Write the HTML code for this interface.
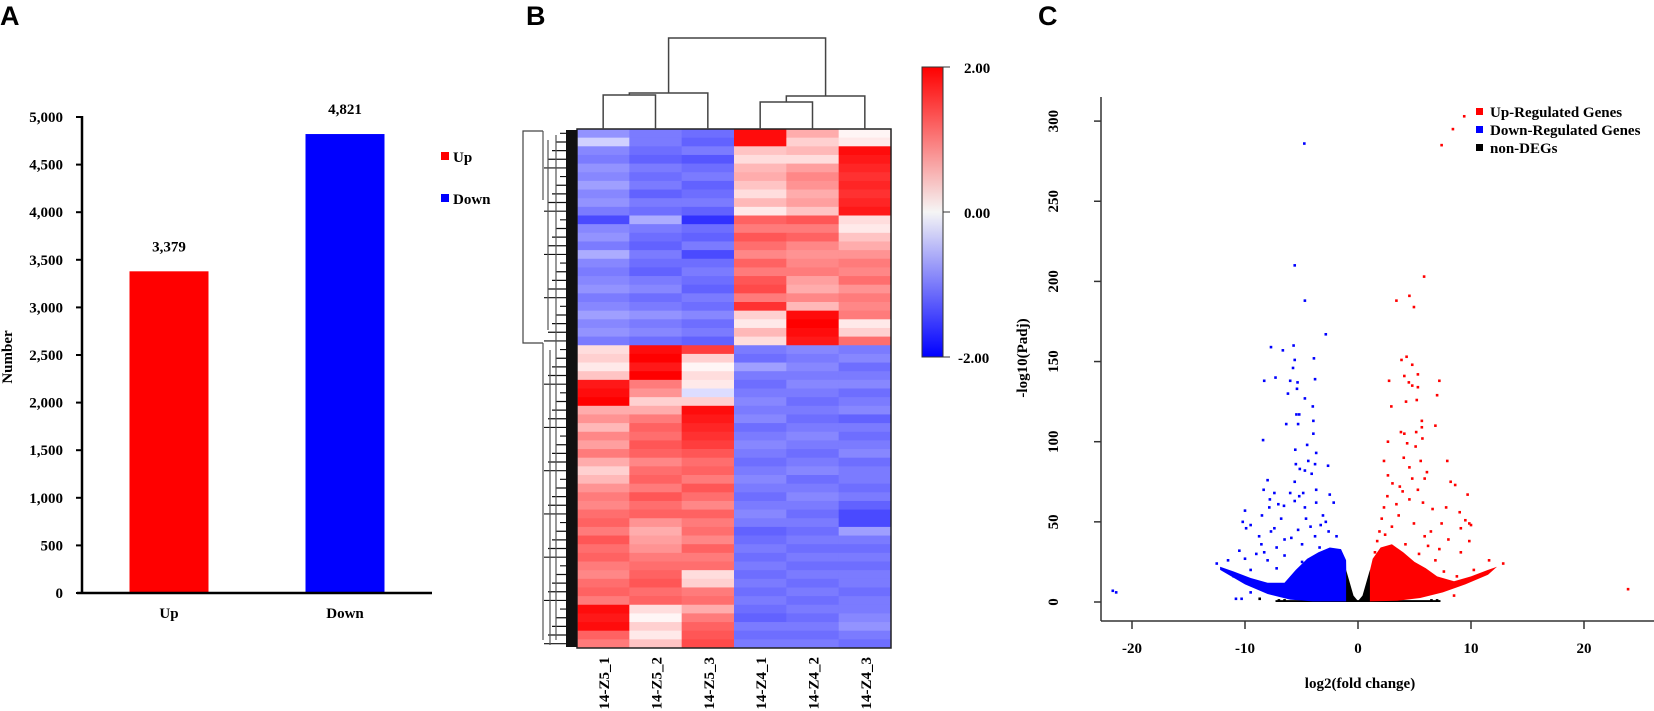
<!DOCTYPE html>
<html><head><meta charset="utf-8">
<style>
html,body{margin:0;padding:0;background:#fff;}
svg{display:block;font-family:"Liberation Serif",serif;}
.t{font-weight:bold;font-size:15px;fill:#000;}
</style></head>
<body>
<svg id="fig" width="1654" height="711" viewBox="0 0 1654 711" xmlns="http://www.w3.org/2000/svg">
<text x="0" y="25" font-family="Liberation Sans, sans-serif" font-weight="bold" font-size="27">A</text>
<text x="526" y="25" font-family="Liberation Sans, sans-serif" font-weight="bold" font-size="27">B</text>
<text x="1038" y="25" font-family="Liberation Sans, sans-serif" font-weight="bold" font-size="27">C</text>
<g id="pa"></g>
<g id="pb"></g>
<g id="pc"></g>
</svg>
<script>
// ---------- Panel A data ----------
const barCategories = ["Up", "Down"];
const barValues = [3379, 4821];
const barLabels = ["3,379", "4,821"];
const barColors = ["#ff0000", "#0000ff"];
const barTicks = [0, 500, 1000, 1500, 2000, 2500, 3000, 3500, 4000, 4500, 5000];
const barTickLabels = ["0", "500", "1,000", "1,500", "2,000", "2,500", "3,000", "3,500", "4,000", "4,500", "5,000"];

// ---------- Panel B data ----------
const heatColumns = ["14-Z5_1", "14-Z5_2", "14-Z5_3", "14-Z4_1", "14-Z4_2", "14-Z4_3"];
const heatValues = [
[-0.8,-1.0,-1.1,1.9,0.6,0.0],[-0.3,-1.0,-1.2,1.9,0.3,0.1],[-0.9,-1.1,-1.0,0.4,0.5,1.9],[-1.0,-1.2,-1.3,0.2,0.2,1.8],
[-0.8,-1.0,-1.1,0.5,0.7,1.7],[-0.9,-1.1,-1.0,0.6,0.9,1.6],[-0.7,-1.0,-1.2,0.4,0.8,1.7],[-0.9,-1.2,-1.1,0.2,0.6,1.6],
[-0.8,-1.0,-1.0,0.5,0.7,1.7],[-1.0,-1.1,-1.2,0.1,0.4,1.8],[-1.4,-0.6,-1.6,1.2,1.3,0.2],[-0.9,-1.0,-1.1,1.0,1.0,0.1],
[-0.8,-1.1,-1.2,1.3,1.2,0.4],[-1.0,-1.2,-1.0,1.1,0.9,0.6],[-0.6,-1.0,-1.4,0.9,0.8,0.8],[-0.9,-1.1,-1.1,1.2,0.9,1.0],
[-1.0,-1.2,-1.0,1.0,1.0,0.9],[-0.9,-1.0,-1.1,1.3,0.7,1.1],[-0.8,-0.9,-1.2,1.4,0.6,0.8],[-1.0,-1.1,-1.0,1.0,0.9,1.0],
[-0.9,-1.0,-1.1,1.6,0.5,0.9],[-0.7,-0.8,-0.9,0.3,1.9,1.0],[-0.9,-1.0,-1.1,0.1,2.0,0.1],[-0.8,-0.9,-1.0,0.5,1.9,0.3],
[-1.0,-1.1,-1.2,0.2,1.8,1.1],
[0.2,1.9,1.5,-1.0,-0.9,-1.0],[0.3,2.0,0.3,-1.1,-1.0,-0.9],[0.1,1.8,0.0,-0.7,-0.9,-1.1],[0.4,2.0,0.2,-1.0,-1.0,-1.0],
[1.8,1.0,0.1,-1.1,-0.9,-0.9],[1.9,0.8,-0.2,-1.0,-1.0,-1.1],[2.0,0.3,0.3,-0.9,-1.1,-1.0],[0.6,0.6,1.9,-1.0,-1.0,-0.9],
[0.8,1.0,1.8,-0.9,-1.1,-1.2],[0.5,1.2,1.7,-1.1,-1.0,-1.0],[0.9,1.1,1.6,-1.0,-0.9,-1.1],[0.7,1.3,1.5,-0.9,-1.0,-1.0],
[1.0,1.2,1.3,-1.0,-1.1,-0.9],[0.6,0.9,1.1,-1.1,-1.0,-1.1],[0.3,1.1,1.2,-1.0,-0.9,-1.0],[0.5,1.2,1.0,-0.9,-1.1,-1.0],
[0.8,1.0,1.3,-1.0,-1.0,-1.1],[1.0,1.3,1.1,-1.1,-0.9,-1.0],[0.9,1.1,0.9,-1.0,-1.0,-1.2],[1.1,1.2,1.2,-0.9,-1.1,-1.4],
[1.2,0.8,1.0,-1.0,-1.0,-1.4],[1.0,0.6,1.1,-1.2,-1.1,-0.7],[1.3,0.7,0.9,-1.1,-1.0,-1.0],[1.1,0.8,1.2,-1.0,-1.1,-1.1],
[1.2,1.0,1.0,-1.1,-1.0,-1.0],[1.0,1.1,1.1,-1.0,-1.1,-1.1],[0.9,1.2,0.2,-1.1,-1.0,-1.0],[1.1,1.3,0.3,-1.0,-1.1,-1.0],
[1.2,1.1,1.0,-1.1,-1.0,-1.1],[1.0,1.2,1.1,-1.0,-1.1,-1.0],[1.9,0.2,0.6,-1.1,-1.0,-1.0],[1.8,0.0,1.0,-1.2,-1.1,-0.9],
[1.9,0.3,1.2,-1.0,-1.0,-0.8],[1.2,0.1,1.3,-1.1,-1.1,-1.0],[1.0,0.4,1.4,-1.0,-1.0,-1.1]
];
const colorbarTicks = [2, 0, -2];
const colorbarLabels = ["2.00", "0.00", "-2.00"];

// ---------- Panel C data ----------
const volXTicks = [-20, -10, 0, 10, 20];
const volYTicks = [0, 50, 100, 150, 200, 250, 300];
const downPoints = [[-4.75,286],[-5.6,210],[-4.7,188],[-2.85,167],[-5.7,160],[-7.7,159],[-6.65,157],[-5.6,151],[-3.9,152],[-5.75,146],
[-8.3,138],[-7.3,140],[-6,138],[-5.35,137],[-3.8,139],[-5.4,133],[-6.2,130],[-4.7,127],[-4,122],[-5.45,117],[-5.2,117],[-3.95,113],
[-6.35,111],[-5.3,111],[-3.95,105],[-8.4,101],[-4.5,98],[-5.55,95],[-3.7,93],[-4.4,88],[-5.5,86],[-3.8,86],[-2.65,85],[-5.15,83],
[-4.7,82],[-4.1,80],[-8,76],[-5.6,75],[-8.35,70],[-3.7,70],[-6,68],[-7.4,68],[-4.85,68],[-2.5,67],[-7.8,64],[-5.2,66],[-2.15,62],
[-7.05,61],[-5.6,63],[-3.7,62],[-7.85,59],[-6.55,60],[-4.7,59],[-10,57],[-8.5,54],[-3.1,54],[-10.2,50],[-9.5,48],[-2.85,50],
[-9.9,46],[-7.4,46],[-8.75,41],[-5.9,40],[-3.8,41],[-1.9,41],[-10.5,32],[-8.55,36],[-7.2,34],[-4.95,36],[-12.5,24],[-11.5,26],
[-21.7,7],[-21.4,6],[-10.8,2],[-10.3,2],[-9.5,6],[-11,16],[-9.5,20],[-8,26],[-6.5,29],[-3.4,34],[-2.3,29],[-1.5,24],[-7.2,21],
[-4.95,25],[-6.5,39],[-5.3,45],[-4.2,47],[-6.8,52],[-3.3,48],[-2.6,44],[-4.6,52],[-7.7,44],[-9,30],[-10,27],[-8.3,31]];
const upPoints = [[9.4,303],[8.4,295],[7.4,285],[5.85,203],[4.55,191],[3.4,188],[4.95,184],[4.3,153],[3.85,151],[4.8,148],[5.3,142],
[7.2,138],[2.75,138],[4.1,141],[4.5,137],[4.8,135],[5.3,134],[7,129],[5.2,126],[4.25,125],[2.95,122],[5.65,113],[5.65,109],[6.85,110],
[5.7,102],[5.15,106],[3.8,106],[4.1,105],[2.65,100],[4.35,99],[5.1,97],[4.05,90],[7.9,88],[5.55,88],[2.3,88],[4.55,84],[6.1,81],
[5.9,77],[4.8,77],[8.2,75],[8.6,73],[5.3,70],[9.7,67],[5.75,62],[6.6,58],[7.8,59],[9,56],[9.5,51],[9.85,49],[10,48],[9.1,46],
[7.4,49],[6.45,44],[8,39],[9.85,38],[9.1,31],[10.25,20],[11.6,26],[12.85,24],[23.9,8],[8.5,4],[4.55,64],[3.4,61],[3.95,69],
[3.05,74],[2.65,79],[2.3,59],[3.6,54],[4.95,49],[5.9,41],[6.85,26],[7.6,19],[8.75,16],[4.2,36],[1.9,44],[1.5,31],[3.2,24],
[2.1,52],[3.0,47],[2.6,66],[3.7,72],[1.7,38],[6.2,35],[5.4,30],[7.2,33],[2.4,42]];
const nonDegPoints = [[-8.7,2],[-7,1],[6.5,1],[7,1],[-6.5,1]];
const downCloud = [[-12.2,22],[-11,19],[-9.5,15],[-8,12],[-6.5,12],[-5.5,20],[-4.5,27],[-3.5,31],[-2.5,34],[-1.5,33],[-1.05,26],
[-1.0,0.4],[-4,0.4],[-6,1.5],[-8,5],[-10,11],[-12.2,20]];
const upCloud = [[1.0,0.4],[1.0,18],[1.3,27],[2,34],[3,36],[4,31],[5,25],[6,21],[7,16],[8.5,13],[10,16],[11.5,20],[12.3,22],
[11.5,17],[9.5,11],[7.5,6],[5.5,2.5],[3.5,0.8]];
const nonDegCloud = [[-1.05,20],[-0.4,4],[0,0.6],[0.4,4],[1.05,20],[1.05,0],[-1.05,0]];
const nonDegBase = [[-7.3,0],[7.3,0],[7.3,1.2],[-7.3,1.2]];

const NS = "http://www.w3.org/2000/svg";
function mk(parent, tag, attrs, txt){
  const e = document.createElementNS(NS, tag);
  for (const k in attrs) e.setAttribute(k, attrs[k]);
  if (txt !== undefined) e.textContent = txt;
  parent.appendChild(e);
  return e;
}

// ================= Panel A =================
(function(){
  const g = document.getElementById("pa");
  const y = v => 593 - v * 476 / 5000;
  const xc = i => 169 + 176 * i;
  barTicks.forEach((t, i) => {
    const l = mk(g, "line", {x1:76, x2:82, y1:y(t), y2:y(t), stroke:"#000", "stroke-width":2});
    
    
    const tx = mk(g, "text", {x:63, y:y(t)+5, "text-anchor":"end", class:"t"}, barTickLabels[i]);
    
    
  });
  barValues.forEach((v, i) => {
    const r = mk(g, "rect", {x:xc(i)-39.5, y:y(v), width:79, height:593-y(v), fill:barColors[i]});
    
    
    const vl = mk(g, "text", {x:xc(i), y:y(v)-20, "text-anchor":"middle", class:"t"}, barLabels[i]);
    
    
    const cl = mk(g, "text", {x:xc(i), y:618, "text-anchor":"middle", class:"t"}, barCategories[i]);
    
    
    const lr = mk(g, "rect", {x:441, y:152+42*i, width:8, height:8, fill:barColors[i]});
    
    
    const lt = mk(g, "text", {x:453, y:162+42*i, class:"t", "font-size":"16"}, barCategories[i]);
    
    
  });
  const ya = mk(g, "line", {x1:82, x2:82, y1:116, y2:594, stroke:"#000", "stroke-width":2.5});
  
  
  const xa = mk(g, "line", {x1:77, x2:432, y1:593, y2:593, stroke:"#000", "stroke-width":2.5});
  
  
  const yt = mk(g, "text", {x:0, y:0, class:"t", "text-anchor":"middle", transform:"translate(12,357) rotate(-90)"}, "Number");
  
  
})();

// ================= Panel B =================
(function(){
  const g = document.getElementById("pb");
  const L = 577, R = 891, T = 129, B = 648;
  const cw = (R - L) / heatColumns.length;
  const rh = (B - T) / heatValues.length;
  function col(v){
    v = Math.max(-2, Math.min(2, v));
    let r, gg, b;
    if (v >= 0){ const f = v/2; r = 255; gg = Math.round(245*(1-f)); b = Math.round(245*(1-f)); }
    else { const f = -v/2; r = Math.round(245*(1-f)); gg = Math.round(245*(1-f)); b = 255; }
    return `rgb(${r},${gg},${b})`;
  }
  heatValues.forEach((row, i) => {
    row.forEach((v, j) => {
      const c = mk(g, "rect", {x:L + j*cw, y:T + i*rh, width:cw+0.4, height:rh+0.4, fill:col(v)});
      
      
    });
  });
  const border = mk(g, "rect", {x:L, y:T, width:R-L, height:B-T, fill:"none", stroke:"#222", "stroke-width":1.5});
  
  
  heatColumns.forEach((name, j) => {
    const t = mk(g, "text", {x:0, y:0, class:"t", "font-size":"16", "text-anchor":"end",
      transform:`translate(${L + (j+0.5)*cw + 6},657) rotate(-90)`}, name);
    
    
  });
  const cx = j => L + (j+0.5)*cw;
  const dg = mk(g, "g", {stroke:"#444", "stroke-width":1.5, fill:"none"});
  
  
  const a = (cx(0)+cx(1))/2, bb = (a+cx(2))/2, c2 = (cx(3)+cx(4))/2, d = (c2+cx(5))/2;
  mk(dg, "path", {d:`M${cx(0)},${T} V95 H${cx(1)} V${T} M${a},95 V93 H${cx(2)} V${T} M${cx(3)},${T} V102 H${cx(4)} V${T} M${c2},102 V96 H${cx(5)} V${T} M${bb},93 V38 H${d} V96`});
  const rg = mk(g, "g", {stroke:"#444", "stroke-width":1.2, fill:"none"});
  
  
  mk(rg, "path", {d:`M543,131 H523 V343 H543`});
  heatValues.forEach((row, i) => {
    const yy = T + (i+0.5)*rh;
    mk(rg, "line", {x1:560 - (i%5)*4, x2:577, y1:yy, y2:yy, stroke:"#111"});
  });
  mk(rg, "path", {d:`M543,131 V200 M548,140 V330 M543,343 V640 M550,350 V645 M556,135 V640`, stroke:"#555"});
  const dense = mk(g, "rect", {x:566, y:T+1, width:11, height:B-T-2, fill:"#111"});
  
  
  const defs = mk(g, "defs", {});
  const lg = mk(defs, "linearGradient", {id:"cbg", x1:0, y1:0, x2:0, y2:1});
  mk(lg, "stop", {offset:"0", "stop-color":"#ff0000"});
  mk(lg, "stop", {offset:"0.5", "stop-color":"#f5f5f5"});
  mk(lg, "stop", {offset:"1", "stop-color":"#0000ff"});
  const cb = mk(g, "rect", {x:922, y:67, width:21, height:290, fill:"url(#cbg)", stroke:"#333", "stroke-width":1});
  
  
  const cy = v => 212 - v * 145 / 2;
  colorbarTicks.forEach((v, i) => {
    const tk = mk(g, "line", {x1:943, x2:950, y1:cy(v), y2:cy(v), stroke:"#333"});
    
    
    const tl = mk(g, "text", {x: v < 0 ? 958 : 964, y:cy(v)+6, class:"t", "font-size":"16"}, colorbarLabels[i]);
    
    
  });
})();

// ================= Panel C =================
(function(){
  const g = document.getElementById("pc");
  const x = v => 1358 + 11.3 * v;
  const y = v => 602 - 1.603 * v;
  const poly = (pts, fill, name) => {
    const p = mk(g, "polygon", {points: pts.map(p => x(p[0]).toFixed(1)+","+y(p[1]).toFixed(1)).join(" "), fill:fill});
    
    
  };
  poly(nonDegBase, "#000", "non-deg-baseline");
  poly(downCloud, "#0000ff", "down-regulated-dense");
  poly(upCloud, "#ff0000", "up-regulated-dense");
  poly(nonDegCloud, "#000", "non-deg-dense");
  const pts = (arr, fill, name) => arr.forEach(p => {
    const c = mk(g, "rect", {x:x(p[0])-1.3, y:y(p[1])-1.3, width:2.6, height:2.6, fill:fill});
    
    
  });
  pts(nonDegPoints, "#000", "non-deg-point");
  pts(downPoints, "#0000ff", "down-point");
  pts(upPoints, "#ff0000", "up-point");
  const ya = mk(g, "line", {x1:1101, x2:1101, y1:97, y2:621, stroke:"#333", "stroke-width":1.5});
  
  
  const xa = mk(g, "line", {x1:1101, x2:1654, y1:621, y2:621, stroke:"#333", "stroke-width":1.5});
  
  
  volYTicks.forEach(t => {
    const l = mk(g, "line", {x1:1094, x2:1101, y1:y(t), y2:y(t), stroke:"#333", "stroke-width":1.5});
    
    
    const tx = mk(g, "text", {x:0, y:0, class:"t", "text-anchor":"middle", transform:`translate(1058,${y(t)}) rotate(-90)`}, String(t));
    
    
  });
  volXTicks.forEach(t => {
    const l = mk(g, "line", {x1:x(t), x2:x(t), y1:621, y2:629, stroke:"#333", "stroke-width":1.5});
    
    
    const tx = mk(g, "text", {x:x(t), y:653, class:"t", "font-size":"16", "text-anchor":"middle"}, String(t));
    
    
  });
  const xt = mk(g, "text", {x:1360, y:688, class:"t", "font-size":"16", "text-anchor":"middle"}, "log2(fold change)");
  
  
  const yt = mk(g, "text", {x:0, y:0, class:"t", "text-anchor":"middle", transform:"translate(1027,358) rotate(-90)"}, "-log10(Padj)");
  
  
  const legNames = ["Up-Regulated Genes", "Down-Regulated Genes", "non-DEGs"];
  const legCols = ["#ff0000", "#0000ff", "#000"];
  legNames.forEach((n, i) => {
    const s = mk(g, "rect", {x:1476, y:108+18*i, width:7, height:7, fill:legCols[i]});
    
    
    const t = mk(g, "text", {x:1490, y:117+18*i, class:"t", "font-size":"15.5"}, n);
    
    
  });
})();
</script>
</body></html>
